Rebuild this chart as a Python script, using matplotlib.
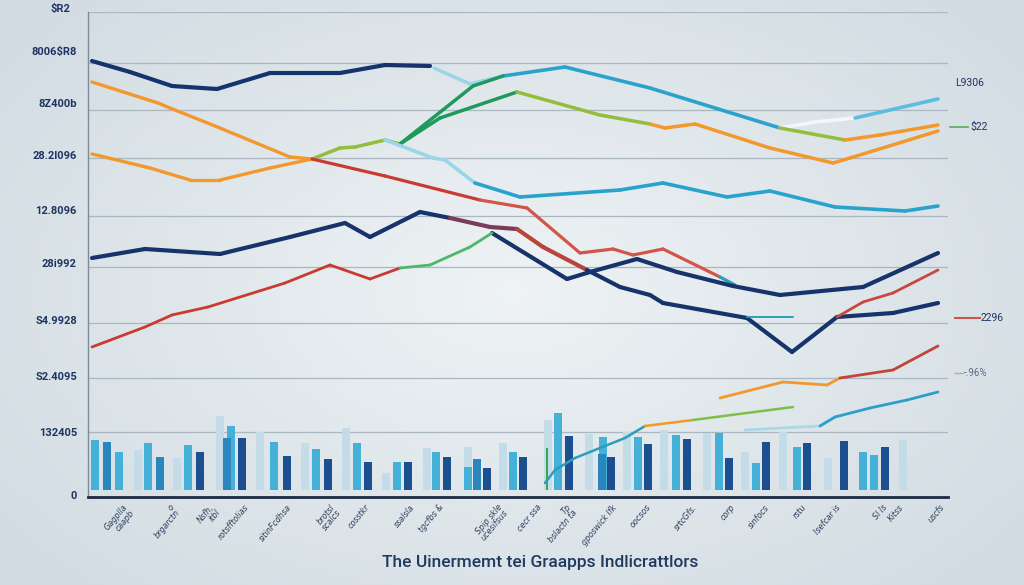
import numpy as np
import matplotlib.pyplot as plt

# ---------------- data (x: period index, y: index value) ----------------
navy_top_x = [0.4, 4.2, 8.4, 12.9, 18.2, 25.2, 29.7, 34.2]
navy_top_y = [85.8, 83.6, 80.8, 80.2, 83.4, 83.4, 85.0, 84.8]

cyan_top_x = [34.6, 38.2, 41.5, 47.7, 56.2, 69.2, 72.7, 76.7, 85.0]
cyan_top_y = [84.4, 81.2, 82.8, 84.6, 80.4, 72.4, 73.6, 74.4, 78.2]

orange_top_x = [0.4, 7.0, 8.2, 12.7, 20.2, 22.4]
orange_top_y = [81.6, 77.4, 76.4, 72.8, 66.6, 66.2]

orange_low_x = [0.4, 6.2, 10.2, 13.2, 18.2, 22.4]
orange_low_y = [67.2, 64.4, 62.0, 62.0, 64.4, 66.2]

green_mid_x = [22.4, 25.2, 26.7, 29.7, 31.2, 35.2, 42.9, 51.2, 56.2, 57.7,
               60.7, 68.2, 74.5, 76.2, 85.0]
green_mid_y = [66.2, 68.4, 68.6, 70.0, 69.2, 74.4, 79.6, 75.0, 73.2, 72.4,
               73.2, 68.4, 65.4, 66.4, 71.8]

green_branch_x = [31.2, 38.5, 41.5]
green_branch_y = [69.2, 80.8, 82.8]

orange_right_x = [69.2, 75.7, 79.2, 85.0]
orange_right_y = [72.4, 70.0, 71.0, 73.0]

cyan_mid_x = [29.7, 34.5, 35.7, 38.7, 43.2, 53.2, 57.5, 63.9, 68.2, 74.7, 81.7, 85.0]
cyan_mid_y = [70.0, 66.4, 66.0, 61.4, 58.6, 60.0, 61.4, 58.6, 59.8, 56.6, 55.8, 56.8]

red_upper_x = [22.4, 29.7, 39.2, 43.9, 49.2, 52.5, 54.5, 57.5, 63.2, 64.7]
red_upper_y = [66.2, 62.8, 58.0, 56.4, 47.4, 48.2, 47.0, 48.2, 42.6, 41.0]

navy_mid_x = [0.4, 5.7, 13.2, 20.2, 25.7, 28.2, 33.2, 36.2, 40.2, 42.9,
              45.5, 49.9, 53.2, 56.2, 57.5, 65.9, 70.4, 74.9, 80.5, 85.0]
navy_mid_y = [46.4, 48.2, 47.2, 50.6, 53.4, 50.6, 55.6, 54.4, 52.6, 52.2,
              48.6, 44.0, 40.6, 39.0, 37.4, 34.4, 27.6, 34.6, 35.4, 37.4]

navy_two_x = [40.4, 47.9, 50.2, 54.9, 58.9, 64.5, 69.2, 77.5, 85.0]
navy_two_y = [51.4, 42.2, 43.6, 46.2, 43.6, 40.8, 39.0, 40.6, 47.4]

red_low_x = [0.4, 5.7, 8.4, 12.0, 19.7, 24.2, 28.2, 31.2, 34.2, 38.2, 40.4]
red_low_y = [28.6, 32.6, 35.0, 36.6, 41.4, 45.0, 42.2, 44.4, 45.0, 48.6, 51.4]

teal_stub_x = [65.9, 70.5]
teal_stub_y = [34.6, 34.6]

red_right_x = [74.9, 77.5, 80.5, 85.0]
red_right_y = [34.6, 37.6, 39.4, 44.0]

orange_red_x = [63.2, 69.5, 73.9, 75.2, 80.5, 85.0]
orange_red_y = [18.4, 21.6, 21.0, 22.4, 24.0, 28.8]

teal_low_x = [45.7, 46.7, 48.7, 51.2, 53.7, 55.7, 60.5, 70.5]
teal_low_y = [1.4, 4.0, 6.4, 8.4, 10.4, 12.8, 14.0, 16.6]

teal_right_x = [65.7, 73.2, 74.7, 78.2, 81.9, 85.0]
teal_right_y = [12.0, 12.8, 14.6, 16.4, 18.0, 19.6]

# bars
pale_x = [5.0, 8.9, 13.2, 17.2, 21.7, 25.8, 29.8, 33.9, 38.0, 41.5, 46.0, 50.1,
          53.9, 57.6, 61.9, 65.7, 69.5, 74.0, 81.5]
pale_h = [8.0, 6.4, 14.8, 11.6, 9.4, 12.4, 3.4, 8.4, 8.6, 9.4, 14.0, 11.2,
          11.6, 12.0, 11.4, 7.6, 11.6, 6.4, 10.0]
light_x = [0.7, 3.1, 6.0, 10.0, 14.3, 18.6, 22.8, 26.9, 30.9, 34.8, 38.0, 42.5,
           47.0, 51.5, 55.0, 58.8, 63.1, 66.8, 70.9, 77.5, 78.6]
light_h = [10.0, 7.6, 9.4, 9.0, 12.8, 9.6, 8.2, 9.4, 5.6, 7.6, 4.6, 7.6,
           15.4, 10.6, 10.6, 11.0, 11.4, 5.4, 8.6, 7.6, 7.0]
mid_x = [1.9, 7.2, 13.9, 38.9, 51.4]
mid_h = [9.6, 6.6, 10.4, 6.2, 7.2]
dark_x = [11.2, 15.4, 19.9, 24.0, 28.0, 32.0, 35.9, 39.9, 43.5, 48.1, 52.3, 56.0,
          59.9, 64.1, 67.8, 71.9, 75.6, 79.7]
dark_h = [7.6, 10.4, 6.8, 6.2, 5.6, 5.6, 6.6, 4.4, 6.6, 10.8, 6.6, 9.2,
          10.2, 6.4, 9.6, 9.4, 9.8, 8.6]

y_tick_pos = [87.8, 77.4, 67.0, 56.0, 45.4, 34.0, 22.8, 11.6, -1.0]
y_tick_labels = ["8006$R8", "8Z400b", "28.2l096", "12.8096", "28i992",
                 "S4.9928", "S2.4095", "132405", "0"]
grid_y = [95.6, 85.4, 76.0, 66.4, 54.8, 44.6, 33.4, 22.4, 11.6]

x_label_pos = [3.5, 8.1, 12.1, 15.6, 19.9, 24.2, 27.7, 32.2, 35.1, 40.9, 44.9,
               47.8, 52.4, 55.8, 60.4, 64.2, 67.6, 71.3, 74.8, 79.4, 81.1, 85.1]
x_labels = ["Gagplla\ncaapb", "o\nbrgarctn", "Nsfh,\nitbl", "rotsfftolias",
            "sitinFcdhsa", "brotsl\nscalcs", "cosstkr", "ssalsla",
            "tgcfbs &", "Spip skle\nucesifsus", "cecr ssa",
            "Tp\nbslactn ta", "gposwick Ifk", "oocsos", "srtcGfs.",
            "corp", "sinfocs", "rstu", "Isefcar is", "Sl Is", "Kitss", "uscfs"]

# ---------------- colours ----------------
NAVY = "#17336b"
ORANGE = "#f2982c"
RED = "#c93a30"
SALMON = "#d4544a"
CYAN = "#29a3cc"
LCYAN = "#9ad6ea"
GREEN = "#1f9a5c"
YGREEN = "#93bd3a"
LGREEN = "#4cb868"
TEAL = "#2a9fb8"
BROWN = "#7b3c5a"
TXT = "#1f3561"


def segs(spec):
    out = []
    for n, c in spec:
        out += [c] * n
    return out


def draw(ax, x, y, colors, lw):
    for i in range(len(x) - 1):
        ax.plot(x[i:i + 2], y[i:i + 2], color=colors[i], lw=lw,
                solid_capstyle="round", zorder=4)


fig = plt.figure(figsize=(10.24, 5.85), dpi=100)

# soft radial background
bg = fig.add_axes([0, 0, 1, 1], zorder=-10)
gx, gy = np.meshgrid(np.linspace(-1, 1, 256), np.linspace(-1, 1, 256))
r = np.clip(np.sqrt(gx ** 2 + (gy * 0.9) ** 2) / 1.3, 0, 1)
c0 = np.array([0.935, 0.952, 0.960])
c1 = np.array([0.820, 0.860, 0.885])
img = c0[None, None, :] * (1 - r[..., None]) + c1[None, None, :] * r[..., None]
bg.imshow(img, aspect="auto", extent=[0, 1, 0, 1])
bg.axis("off")

ax = fig.add_axes([88 / 1024, 88 / 585, 860 / 1024, 485 / 585])
ax.set_facecolor("none")
ax.set_xlim(0, 86)
ax.set_ylim(-1.4, 95.6)

for gyv in grid_y:
    ax.axhline(gyv, color="#aab6c0", lw=0.9, zorder=1)

# bars
ax.bar(pale_x, pale_h, width=0.75, color="#c3dce8", zorder=2)
ax.bar(light_x, light_h, width=0.8, color="#45b0d8", zorder=2)
ax.bar(mid_x, mid_h, width=0.8, color="#2a86bd", zorder=2)
ax.bar(dark_x, dark_h, width=0.75, color="#1c4f8f", zorder=2)
ax.bar([45.9], [8.4], width=0.25, color="#3aa757", zorder=3)

# lines
draw(ax, navy_top_x, navy_top_y, [NAVY] * 7, 3.0)
draw(ax, cyan_top_x, cyan_top_y,
     segs([(2, LCYAN), (3, CYAN), (2, "#f2f7f9"), (1, "#5bbde0")]), 2.6)
draw(ax, orange_top_x, orange_top_y, [ORANGE] * 5, 2.4)
draw(ax, orange_low_x, orange_low_y, [ORANGE] * 5, 2.4)
draw(ax, green_mid_x, green_mid_y,
     segs([(4, YGREEN), (2, GREEN), (2, YGREEN), (6, ORANGE)]), 2.5)
draw(ax, green_branch_x, green_branch_y, [GREEN] * 2, 2.5)
draw(ax, orange_right_x, orange_right_y, segs([(1, YGREEN), (2, ORANGE)]), 2.5)
draw(ax, cyan_mid_x, cyan_mid_y, segs([(3, LCYAN), (8, CYAN)]), 2.6)
draw(ax, red_upper_x, red_upper_y, segs([(2, RED), (6, SALMON), (1, TEAL)]), 2.3)
draw(ax, navy_mid_x, navy_mid_y,
     segs([(7, NAVY), (2, BROWN), (2, "#b9433d"), (8, NAVY)]), 3.0)
draw(ax, navy_two_x, navy_two_y, [NAVY] * 8, 3.0)
draw(ax, red_low_x, red_low_y, segs([(7, RED), (3, LGREEN)]), 2.0)
draw(ax, teal_stub_x, teal_stub_y, [TEAL], 1.4)
draw(ax, red_right_x, red_right_y, ["#c9483e"] * 3, 2.0)
draw(ax, orange_red_x, orange_red_y, segs([(3, ORANGE), (2, "#c0443a")]), 2.0)
draw(ax, teal_low_x, teal_low_y, segs([(5, TEAL), (1, ORANGE), (1, "#7cc04a")]), 1.8)
draw(ax, teal_right_x, teal_right_y, segs([(1, "#a9d8e6"), (4, "#2a9fc8")]), 2.0)

# axes styling
for s in ["top", "right"]:
    ax.spines[s].set_visible(False)
ax.spines["left"].set_color("#7d8c99")
ax.spines["left"].set_linewidth(1.0)
ax.spines["bottom"].set_color("#1b2a44")
ax.spines["bottom"].set_linewidth(2.0)
ax.set_yticks(y_tick_pos)
ax.set_yticklabels(y_tick_labels, fontsize=8, color=TXT, fontweight="bold",
                   family="Roboto")
ax.tick_params(axis="y", length=0, pad=8)
ax.set_xticks([])
fig.text(60 / 1024, 1 - 9 / 585, "$R2", fontsize=8, color=TXT,
         fontweight="bold", family="Roboto", ha="center", va="center")

for xp, lab in zip(x_label_pos, x_labels):
    ax.text(xp, -2.6, lab, rotation=50, ha="right", va="top", fontsize=5.8,
            color="#2b3f5c", style="italic", rotation_mode="anchor",
            linespacing=0.85)

# right side annotations
fig.text(970 / 1024, 1 - 83 / 585, "L9306", fontsize=7.5, color=TXT,
         family="Roboto", ha="center", va="center")
fig.add_artist(plt.Line2D([950 / 1024, 968 / 1024], [1 - 127 / 585] * 2,
                          color="#5aa860", lw=1.2))
fig.text(970 / 1024, 1 - 127 / 585, "$22", fontsize=7.5, color=TXT,
         family="Roboto", ha="left", va="center")
fig.add_artist(plt.Line2D([955 / 1024, 980 / 1024], [1 - 318 / 585] * 2,
                          color="#c9584a", lw=1.5))
fig.text(981 / 1024, 1 - 318 / 585, "2296", fontsize=7.5, color=TXT,
         family="Roboto", ha="left", va="center")
fig.add_artist(plt.Line2D([955 / 1024, 963 / 1024], [1 - 373 / 585] * 2,
                          color="#d89a90", lw=1.0))
fig.text(964 / 1024, 1 - 373 / 585, "-.96%", fontsize=7, color="#5a6a80",
         family="Roboto", ha="left", va="center")

fig.text(540 / 1024, 1 - 563 / 585, "The Uinermemt tei Graapps Indlicrattlors",
         fontsize=12.5, color="#1f3a5f", family="Roboto", fontweight="medium",
         ha="center", va="center")

fig.savefig("out.png", dpi=100)
